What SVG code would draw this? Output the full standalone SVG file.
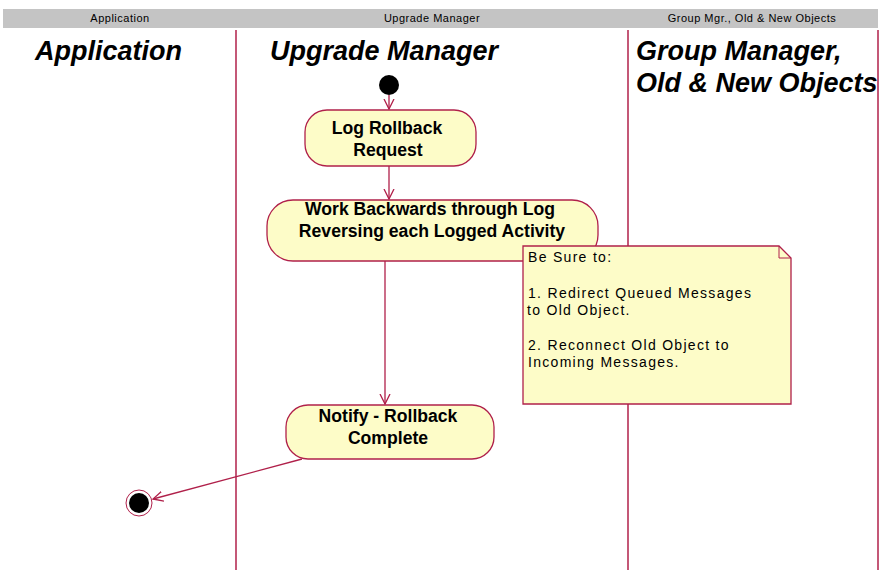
<svg xmlns="http://www.w3.org/2000/svg" width="880" height="570" viewBox="0 0 880 570">
<style>
.hdr{font-family:"Liberation Sans",Arial,sans-serif;font-size:11px;letter-spacing:0.5px;fill:#000;text-anchor:middle}
.title{font-family:"Liberation Sans",Arial,sans-serif;font-size:27px;font-weight:bold;font-style:italic;fill:#000}
.lane{stroke:#b0204a;stroke-width:1.5}
.act{fill:#fdfcc8;stroke:#b0204a;stroke-width:1.3}
.at{font-family:"Liberation Sans",Arial,sans-serif;font-size:17.6px;font-weight:bold;fill:#000;text-anchor:middle}
.nt{font-family:"Liberation Sans",Arial,sans-serif;font-size:14px;letter-spacing:1.3px;fill:#000}
.con{stroke:#b0204a;stroke-width:1.3;fill:none}
</style>
<defs>
<marker id="arr" markerWidth="12" markerHeight="12" refX="10" refY="6" orient="auto" markerUnits="userSpaceOnUse">
<path d="M0,1 L10,6 L0,11" fill="none" stroke="#b0204a" stroke-width="1.3"/>
</marker>
</defs>
<rect x="0" y="0" width="880" height="570" fill="#fff"/>
<g id="header">
<rect x="3" y="9" width="875" height="19" fill="#c4c4c4"/>
<text class="hdr" x="120" y="22">Application</text>
<text class="hdr" x="432" y="22">Upgrade Manager</text>
<text class="hdr" x="752" y="22">Group Mgr., Old &amp; New Objects</text>
</g>
<g id="lanes">
<line class="lane" x1="236" y1="30" x2="236" y2="570"/>
<line class="lane" x1="628" y1="30" x2="628" y2="570"/>
<line class="lane" x1="878" y1="30" x2="878" y2="570"/>
<text class="title" x="35" y="60">Application</text>
<text class="title" x="270" y="60">Upgrade Manager</text>
<text class="title" x="636" y="60">Group Manager,</text>
<text class="title" x="636" y="92">Old &amp; New Objects</text>
</g>
<g id="connectors">
<line class="con" x1="389" y1="95" x2="389" y2="109" marker-end="url(#arr)"/>
<line class="con" x1="389" y1="166" x2="389" y2="199" marker-end="url(#arr)"/>
<line class="con" x1="385" y1="261" x2="385" y2="404" marker-end="url(#arr)"/>
<line class="con" x1="302" y1="459" x2="153" y2="499" marker-end="url(#arr)"/>
</g>
<g id="start">
<circle cx="389" cy="85" r="10" fill="#000"/>
</g>
<g id="logRollback">
<rect class="act" x="305" y="110" width="171" height="56" rx="22" ry="22"/>
<text class="at" x="387" y="134">Log Rollback</text>
<text class="at" x="388" y="156">Request</text>
</g>
<g id="workBackwards">
<rect class="act" x="267" y="200" width="331" height="61" rx="26" ry="26"/>
<text class="at" x="430" y="215">Work Backwards through Log</text>
<text class="at" x="432" y="237">Reversing each Logged Activity</text>
</g>
<g id="note">
<path class="act" d="M523,246 L779,246 L791,258 L791,404 L523,404 Z"/>
<path d="M779,246 L779,258 L791,258" fill="none" stroke="#b0204a" stroke-width="1"/>
<text class="nt" x="528" y="262">Be Sure to:</text>
<text class="nt" x="528" y="298">1. Redirect Queued Messages</text>
<text class="nt" x="527" y="315">to Old Object.</text>
<text class="nt" x="528" y="350">2. Reconnect Old Object to</text>
<text class="nt" x="528" y="367">Incoming Messages.</text>
</g>
<g id="notify">
<rect class="act" x="286" y="405" width="208" height="54" rx="22" ry="22"/>
<text class="at" x="388" y="422">Notify - Rollback</text>
<text class="at" x="388" y="444">Complete</text>
</g>
<g id="end">
<circle cx="139" cy="503" r="13" fill="#fff" stroke="#b0204a" stroke-width="1"/>
<circle cx="139" cy="503" r="10" fill="#000"/>
</g>
</svg>
